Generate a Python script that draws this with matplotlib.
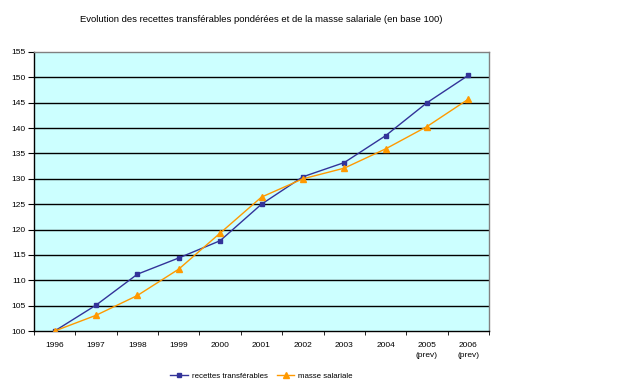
import numpy as np
import matplotlib
matplotlib.use("Agg")
import matplotlib.pyplot as plt

plt.rcParams['font.family'] = ['Liberation Sans', 'DejaVu Sans']

years = ["1996", "1997", "1998", "1999", "2000", "2001", "2002", "2003", "2004",
         "2005\n(prev)", "2006\n(prev)"]
recettes = [100, 105.1, 111.2, 114.4, 117.8, 125.0, 130.4, 133.2, 138.5, 145.0, 150.4]
masse = [100, 103.1, 107.0, 112.2, 119.3, 126.4, 130.0, 132.1, 135.9, 140.3, 145.7]

fig = plt.figure(figsize=(6.38, 3.88), dpi=100)
W, H = 638, 388
left, right, top, bottom = 34, 489, 52, 331
ax = fig.add_axes([left / W, 1 - bottom / H, (right - left) / W, (bottom - top) / H])
ax.set_facecolor("#CCFFFF")

x = np.arange(len(years))
ax.plot(x, recettes, color="#333399", lw=1, marker="s", ms=3.5,
        label="recettes transférables", zorder=3)
ax.plot(x, masse, color="#FF9900", lw=1, marker="^", ms=4.5,
        label="masse salariale", zorder=3)

ax.set_xlim(-0.5, len(years) - 0.5)
ax.set_ylim(100, 155)
ax.set_yticks(np.arange(100, 156, 5))
for v in np.arange(105, 155, 5):
    ax.axhline(v, color="black", lw=1, zorder=1)

ax.set_xticks(x)
ax.set_xticklabels(years, fontsize=6, linespacing=1.6)
ax.set_xticks(np.arange(-0.5, len(years)), minor=True)
ax.tick_params(axis="x", which="major", length=0, pad=8)
ax.tick_params(axis="x", which="minor", length=3, direction="out", color="black")
ax.tick_params(axis="y", length=4, direction="out", labelsize=6, pad=2)

for s in ["left", "bottom"]:
    ax.spines[s].set_color("black")
    ax.spines[s].set_linewidth(1)
for s in ["top", "right"]:
    ax.spines[s].set_color("#808080")
    ax.spines[s].set_linewidth(1)

fig.text((left + right) / 2 / W, 1 - 20 / H,
         "Evolution des recettes transférables pondérées et de la masse salariale (en base 100)",
         ha="center", va="center", fontsize=6.8)

fig.legend(loc="center", bbox_to_anchor=((left + right) / 2 / W, 1 - 376 / H),
           ncol=2, frameon=False, fontsize=5.7, handlelength=2.2, columnspacing=1.2,
           handletextpad=0.5)

fig.savefig("out.png", dpi=100)
